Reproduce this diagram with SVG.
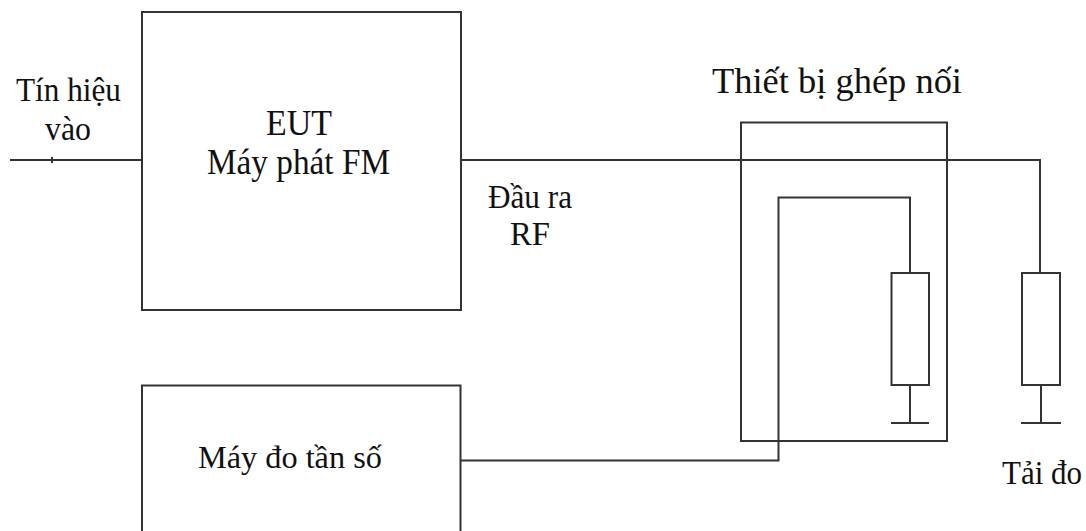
<svg xmlns="http://www.w3.org/2000/svg" width="1086" height="531" viewBox="0 0 1086 531">
<style>
.l{fill:none;stroke:#333;stroke-width:2}
text{font-family:"Liberation Serif","Times New Roman",serif;fill:#111}
</style>
<rect width="1086" height="531" fill="#fff"/>
<g id="connectors">
<path class="l" d="M10 160H142"/>
<path class="l" d="M52 157V163" stroke-width="2.500"/>
<path class="l" d="M461 160H1040V273"/>
<path class="l" d="M461 460.500H778.500V197.500H910V273"/>
<path class="l" d="M910 385V423"/>
<path class="l" d="M1041 385V423"/>
</g>
<g id="eut">
<rect class="l" x="142" y="12" width="319" height="298"/>
<text x="266" y="135" font-size="35" textLength="66" lengthAdjust="spacingAndGlyphs">EUT</text>
<text x="207" y="174" font-size="35" textLength="183" lengthAdjust="spacingAndGlyphs">Máy phát FM</text>
</g>
<g id="freq-meter">
<path class="l" d="M142 531V385.500H460.500V531"/>
<text x="198" y="468" font-size="32.300">Máy đo tần số</text>
</g>
<g id="coupler">
<rect class="l" x="741" y="122.500" width="206" height="318.500"/>
<text x="712" y="93" font-size="36" textLength="250" lengthAdjust="spacingAndGlyphs">Thiết bị ghép nối</text>
</g>
<g id="coupler-resistor">
<rect class="l" x="891.500" y="273" width="37.500" height="112"/>
<path class="l" d="M891 423H929"/>
</g>
<g id="load">
<rect class="l" x="1022" y="273" width="38" height="112"/>
<path class="l" d="M1021 423H1061"/>
<text x="1002" y="484" font-size="33" textLength="80" lengthAdjust="spacingAndGlyphs">Tải đo</text>
</g>
<g id="labels">
<text x="16" y="101" font-size="33" textLength="105" lengthAdjust="spacingAndGlyphs">Tín hiệu</text>
<text x="45" y="140" font-size="33" textLength="46" lengthAdjust="spacingAndGlyphs">vào</text>
<text x="488" y="208" font-size="33" textLength="84" lengthAdjust="spacingAndGlyphs">Đầu ra</text>
<text x="510" y="245" font-size="33" textLength="40" lengthAdjust="spacingAndGlyphs">RF</text>
</g>
</svg>
